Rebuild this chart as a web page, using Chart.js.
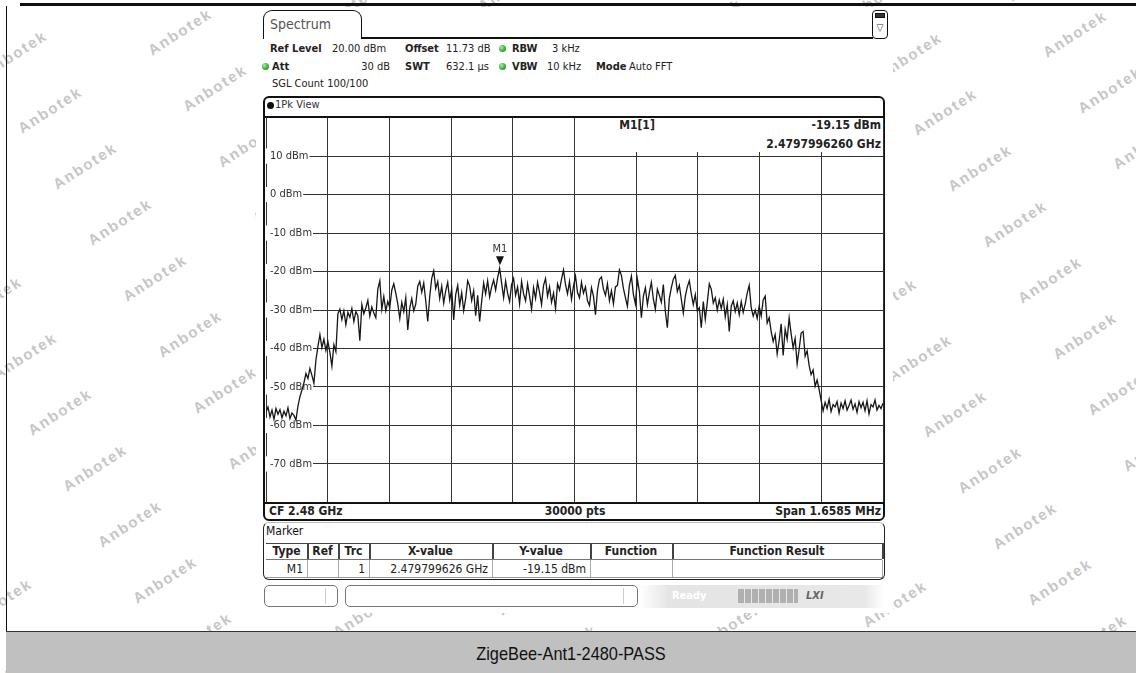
<!DOCTYPE html>
<html>
<head>
<meta charset="utf-8">
<script src="https://cdn.jsdelivr.net/npm/chart.js@4.4.1/dist/chart.umd.min.js"></script>
<style>
  html, body { margin: 0; padding: 0; }
  body { width: 1136px; height: 673px; position: relative; overflow: hidden; background: #fff;
         font-family: 'DejaVu Sans Condensed', 'DejaVu Sans', sans-serif; font-stretch: condensed; color: #222; }
  .a { position: absolute; white-space: nowrap; line-height: 12px; height: 12px; font-size: 11px; }
  .b { font-weight: bold; }
  .r { text-align: right; }
  .c { text-align: center; }
  .ln { position: absolute; background: #111; }
  #wm span { position: absolute; width: 100px; height: 18px; line-height: 18px; text-align: center;
             font: bold 15px 'Liberation Sans', Arial, sans-serif; letter-spacing: 1.8px; color: #c6c6c6;
             transform: rotate(-33deg); white-space: nowrap; }
  #shot { position: absolute; left: 256px; top: 7px; width: 637px; height: 606px; background: #fff; }
  .dot { position: absolute; width: 7px; height: 7px; border-radius: 50%;
         background: radial-gradient(circle at 35% 35%, #a6eaa6, #2fae2f 60%, #1d7d1d); }
  .box { position: absolute; box-sizing: border-box; }
  #trace { position: absolute; left: 256px; top: 107px; z-index: 3; }
  #info { position: absolute; left: 588px; top: 118px; width: 295px; height: 34px; background: #fff; z-index: 4; }
  #footer { position: absolute; left: 6px; top: 631px; width: 1130px; height: 42px; background: #c0c0c0;
            border-top: 1px solid #333; box-sizing: border-box; z-index: 5; }
  #footer div { position: absolute; left: 0; width: 1130px; top: 11px; text-align: center;
                font: 19px 'Liberation Sans', Arial, sans-serif; color: #111; transform: scaleX(0.86); }
</style>
</head>
<body>
<div id="wm"></div>
<div id="shot"></div>
<div class="ln" style="left:20px;top:3px;width:1116px;height:3px;z-index:5"></div>
<div class="ln" style="left:6px;top:6px;width:1px;height:626px;z-index:5"></div>

<!-- tab + header -->
<div class="box" style="left:263px;top:10px;width:99px;height:29px;border:1.5px solid #111;border-bottom:none;border-radius:9px 9px 0 0;z-index:2"></div>
<div class="a" style="left:270px;top:17px;font-size:14px;line-height:15px;height:15px;color:#555;z-index:2">Spectrum</div>
<div class="ln" style="left:361px;top:37px;width:512px;height:2px;z-index:2"></div>
<div class="box" style="left:872px;top:10px;width:16px;height:29px;border:1.5px solid #111;border-radius:4px;z-index:2"></div>
<div class="box" style="left:875px;top:13px;width:10px;height:5px;background:#333;border:1px solid #111;z-index:2"></div>
<div class="a c" style="left:872px;top:22px;width:16px;font-size:10px;color:#333;z-index:2">▽</div>

<div class="a b" style="left:270px;top:43px;z-index:2">Ref Level</div>
<div class="a" style="left:332px;top:43px;z-index:2">20.00 dBm</div>
<div class="a b" style="left:405px;top:43px;z-index:2">Offset</div>
<div class="a" style="left:446px;top:43px;z-index:2">11.73 dB</div>
<div class="dot" style="left:499px;top:45px;z-index:2"></div>
<div class="a b" style="left:512px;top:43px;z-index:2">RBW</div>
<div class="a" style="left:552px;top:43px;z-index:2">3 kHz</div>

<div class="dot" style="left:262px;top:63px;z-index:2"></div>
<div class="a b" style="left:272px;top:61px;z-index:2">Att</div>
<div class="a r" style="left:340px;top:61px;width:50px;z-index:2">30 dB</div>
<div class="a b" style="left:405px;top:61px;z-index:2">SWT</div>
<div class="a" style="left:446px;top:61px;z-index:2">632.1 µs</div>
<div class="dot" style="left:499px;top:63px;z-index:2"></div>
<div class="a b" style="left:512px;top:61px;z-index:2">VBW</div>
<div class="a" style="left:547px;top:61px;z-index:2">10 kHz</div>
<div class="a b" style="left:596px;top:61px;z-index:2">Mode</div>
<div class="a" style="left:629px;top:61px;z-index:2">Auto FFT</div>
<div class="a" style="left:272px;top:78px;z-index:2">SGL Count 100/100</div>

<!-- trace panel -->
<div class="box" style="left:263px;top:96px;width:622px;height:425px;border:2px solid #111;border-radius:6px;z-index:2"></div>
<div style="position:absolute;left:267px;top:102px;width:7px;height:7px;border-radius:50%;background:#111;z-index:2"></div>
<div class="a" style="left:275px;top:99px;color:#333;z-index:2">1Pk View</div>
<div class="ln" style="left:265px;top:116px;width:619px;height:2px;z-index:2"></div>
<div class="ln" style="left:265px;top:502px;width:619px;height:2px;z-index:2"></div>
<div class="a b" style="left:269px;top:505px;font-size:12px;z-index:2">CF 2.48 GHz</div>
<div class="a b c" style="left:515px;top:505px;width:120px;font-size:12px;z-index:2">30000 pts</div>
<div class="a b r" style="left:721px;top:505px;width:160px;font-size:12px;z-index:2">Span 1.6585 MHz</div>

<canvas id="trace" width="637" height="406" style="width:637px;height:406px"></canvas>
<div id="info">
  <div class="a b c" style="left:19px;top:1px;width:60px;font-size:12px">M1[1]</div>
  <div class="a b r" style="left:143px;top:1px;width:150px;font-size:12px">-19.15 dBm</div>
  <div class="a b r" style="left:143px;top:20px;width:150px;font-size:12px">2.4797996260 GHz</div>
</div>

<!-- marker table -->
<div class="box" style="left:263px;top:522px;width:622px;height:58px;border:1.5px solid #222;border-top:1px solid #bbb;border-radius:6px;z-index:2"></div>
<div class="a" style="left:266px;top:525px;font-size:12px;color:#111;z-index:2">Marker</div>
<div id="tbl"></div>

<!-- status bar -->
<div class="box" style="left:264px;top:585px;width:74px;height:22px;border:1px solid #777;border-radius:5px;z-index:2"></div>
<div class="ln" style="left:325px;top:588px;width:1px;height:16px;background:#ccc;z-index:2"></div>
<div class="box" style="left:345px;top:585px;width:293px;height:22px;border:1px solid #777;border-radius:5px;z-index:2"></div>
<div class="ln" style="left:623px;top:588px;width:1px;height:16px;background:#ccc;z-index:2"></div>
<div class="box" style="left:640px;top:585px;width:244px;height:23px;background:linear-gradient(to right,#fff 0%,#e4e4e4 12%,#e8e8e8 92%,#fff 100%);z-index:2"></div>
<div class="a b" style="left:672px;top:590px;color:#fff;z-index:3">Ready</div>
<div class="box" style="left:738px;top:589px;width:60px;height:14px;background:repeating-linear-gradient(to right,#b0b0b0 0,#b0b0b0 6px,#e8e8e8 6px,#e8e8e8 7px);z-index:3"></div>
<div class="a b" style="left:806px;top:590px;font-style:italic;color:#666;z-index:3">LXI</div>

<div id="footer"><div>ZigeBee-Ant1-2480-PASS</div></div>

<script>
// sweep settings
const centerMHz = 2480;
const spanMHz = 1.6585;
const levelTicks = [20, 10, 0, -10, -20, -30, -40, -50, -60, -70, -80];
const markerFreqMHz = 2479.799626;
const markerDbm = -19.15;

// trace (dBm) left to right, evenly spaced over the span
const traceDbm = [
  -56.5, -55.2, -57.8, -56.0, -58.4, -55.6, -57.1, -55.9, -58.0, -56.3, -57.5, -55.4, -58.2, -56.8, -57.4, -58.6,
  -55.0, -52.5, -50.8, -48.9, -46.5, -47.8, -45.2, -47.0, -49.0,
  -43.0, -39.5, -36.4, -39.8, -37.6, -40.5, -38.2, -41.0, -44.6, -39.0, -40.8,
  -31.0, -29.8, -32.5, -30.2, -33.8, -30.6, -31.9, -29.6, -33.0, -30.4, -31.5, -38.0,
  -28.6, -31.0, -29.4, -27.5, -31.6, -29.2, -30.8, -32.0, -24.6, -22.4,
  -29.8, -26.5, -30.2, -27.8, -29.4, -24.8, -23.2, -25.6, -28.4, -32.2,
  -28.0, -30.4, -26.8, -35.2, -29.5, -27.0, -30.2, -28.5, -23.8, -22.6,
  -25.4, -23.0, -27.6, -33.0, -26.5, -21.8, -19.8, -24.4, -22.6, -27.0,
  -23.8, -28.2, -25.0, -22.8, -27.4, -24.6, -32.6, -26.0, -23.6, -28.8,
  -25.5, -30.2, -27.0, -22.4, -23.8, -27.5, -25.0, -31.5, -26.2, -33.0,
  -27.8, -23.0, -25.8, -22.4, -26.6, -24.0, -22.2, -24.8, -21.6, -19.15,
  -23.0, -26.8, -22.5, -25.6, -27.8, -23.4, -21.8, -26.2, -24.0, -28.4,
  -22.6, -25.8, -27.6, -23.2, -26.4, -29.8, -24.2, -27.0, -22.8, -25.4,
  -28.6, -23.6, -21.8, -26.4, -24.0, -28.0, -25.6, -29.6, -23.2, -24.8,
  -22.0, -19.6, -23.4, -25.8, -22.6, -27.2, -23.8, -21.2, -25.4, -26.8,
  -22.8, -25.6, -24.0, -27.6, -28.8, -24.2, -26.4, -31.2, -25.0, -22.0,
  -21.4, -24.6, -26.2, -23.2, -27.6, -25.0, -28.4, -24.0, -23.6, -19.6,
  -21.0, -24.4, -26.8, -29.0, -23.6, -21.2, -26.0, -28.4, -22.0, -25.2,
  -32.0, -26.4, -24.2, -28.6, -25.4, -22.8, -27.2, -29.8, -24.6, -26.2,
  -28.0, -23.4, -30.4, -34.6, -27.0, -24.2, -22.0, -21.0, -25.2, -23.6,
  -27.2, -30.8, -26.4, -24.0, -22.4, -25.8, -28.6, -26.0, -30.2, -29.4,
  -34.6, -27.8, -32.4, -28.0, -23.2, -24.6, -28.2, -26.8, -30.0, -27.4,
  -29.6, -27.2, -31.8, -28.6, -35.6, -29.0, -27.6, -30.4, -28.2, -31.2,
  -27.8, -30.6, -28.4, -25.6, -23.6, -29.4, -31.6, -30.0, -32.2, -29.0,
  -31.6, -27.4, -26.4, -33.4, -32.0, -35.6, -38.2, -36.4, -41.4, -38.0,
  -33.6, -41.8, -35.0, -37.6, -32.0, -36.2, -39.8, -37.4, -44.0, -40.2,
  -36.0, -35.6, -42.0, -40.6, -44.4, -46.8, -45.6, -49.8, -48.2, -50.6,
  -53.4, -56.2, -54.0, -55.6, -53.2, -56.4, -54.6, -55.2, -53.8, -56.8,
  -54.2, -55.6, -53.6, -56.0, -54.8, -53.4, -55.8, -54.4, -56.6, -53.8,
  -55.4, -54.0, -56.2, -53.6, -57.0, -54.6, -55.2, -53.4, -56.0, -54.8, -55.6, -54.2
];

// marker table
const tableHeads = ['Type', 'Ref', 'Trc', 'X-value', 'Y-value', 'Function', 'Function Result'];
const tableRow = ['M1', '', '1', '2.479799626 GHz', '-19.15 dBm', '', ''];

const startMHz = centerMHz - spanMHz / 2;
const stopMHz = centerMHz + spanMHz / 2;

// watermark lattice
const wm = document.getElementById('wm');
for (let a = -20; a <= 25; a++) {
  for (let b = -10; b <= 16; b++) {
    const x = 50 + 35 * a + 130 * b, y = 110 + 56 * a - 78 * b;
    if (x < -60 || x > 1200 || y < -30 || y > 700) continue;
    const s = document.createElement('span');
    s.textContent = 'Anbotek';
    s.style.left = (x - 50) + 'px';
    s.style.top = (y - 9) + 'px';
    wm.appendChild(s);
  }
}

// marker table
const colEdges = [266, 307, 338, 369, 492, 590, 672, 882];
const tbl = document.getElementById('tbl');
function add(html) { tbl.insertAdjacentHTML('beforeend', html); }
add('<div class="ln" style="left:266px;top:543px;width:616px;height:1px;background:#444;z-index:2"></div>');
add('<div class="ln" style="left:266px;top:559px;width:616px;height:1px;background:#777;z-index:2"></div>');
add('<div class="ln" style="left:266px;top:577px;width:616px;height:1px;background:#999;z-index:2"></div>');
colEdges.slice(1).forEach(function (x) {
  add('<div class="ln" style="left:' + x + 'px;top:543px;width:1.5px;height:16px;background:#444;z-index:2"></div>');
  add('<div class="ln" style="left:' + x + 'px;top:560px;width:1px;height:17px;background:#aaa;z-index:2"></div>');
});
tableHeads.forEach(function (t, i) {
  const l = colEdges[i], w = colEdges[i + 1] - l;
  add('<div class="a b c" style="left:' + l + 'px;top:545px;width:' + w + 'px;font-size:12px;z-index:2">' + t + '</div>');
  if (tableRow[i]) {
    add('<div class="a r" style="left:' + l + 'px;top:563px;width:' + (w - 4) + 'px;font-size:12px;z-index:2">' + tableRow[i] + '</div>');
  }
});

const points = traceDbm.map(function (v, i) {
  return { x: startMHz + i * spanMHz / (traceDbm.length - 1), y: v };
});

const markerPlugin = {
  id: 'm1',
  afterDatasetsDraw(chart) {
    const { ctx, scales } = chart;
    const px = scales.x.getPixelForValue(markerFreqMHz);
    const py = scales.y.getPixelForValue(markerDbm);
    ctx.save();
    ctx.fillStyle = '#111';
    ctx.beginPath();
    ctx.moveTo(px - 4, py - 12);
    ctx.lineTo(px + 4, py - 12);
    ctx.lineTo(px, py - 3);
    ctx.closePath();
    ctx.fill();
    ctx.font = "11px 'DejaVu Sans Condensed', 'DejaVu Sans'";
    ctx.textAlign = 'center';
    ctx.textBaseline = 'middle';
    ctx.fillStyle = '#333';
    ctx.fillText('M1', px, py - 19);
    ctx.restore();
  }
};

new Chart(document.getElementById('trace'), {
  type: 'line',
  data: {
    datasets: [{
      data: points,
      borderColor: '#161616',
      borderWidth: 1.3,
      pointRadius: 0,
      tension: 0
    }]
  },
  options: {
    responsive: false,
    animation: false,
    parsing: false,
    layout: { padding: 10 },
    plugins: { legend: { display: false }, tooltip: { enabled: false } },
    scales: {
      x: {
        type: 'linear',
        min: startMHz,
        max: stopMHz,
        afterBuildTicks(s) {
          const t = [];
          for (let k = 0; k <= 10; k++) t.push({ value: startMHz + k * spanMHz / 10 });
          s.ticks = t;
        },
        afterFit(s) { s.height = 0; },
        ticks: { display: false },
        grid: { color: '#333', lineWidth: 1, drawTicks: false },
        border: { display: false }
      },
      y: {
        min: levelTicks[levelTicks.length - 1],
        max: levelTicks[0],
        afterBuildTicks(s) { s.ticks = levelTicks.map(function (v) { return { value: v }; }); },
        afterFit(s) { s.width = 0; },
        ticks: {
          mirror: true,
          padding: 4,
          color: '#333',
          font: { family: "'DejaVu Sans Condensed', 'DejaVu Sans'", size: 11 },
          showLabelBackdrop: true,
          backdropColor: '#fff',
          backdropPadding: { left: 4, right: 1, top: 1, bottom: 1 },
          callback(v) { return (v === levelTicks[0] || v === levelTicks[levelTicks.length - 1]) ? null : v + ' dBm'; }
        },
        grid: { color: '#333', lineWidth: 1, drawTicks: false },
        border: { display: false }
      }
    }
  },
  plugins: [markerPlugin]
});
</script>
</body>
</html>
